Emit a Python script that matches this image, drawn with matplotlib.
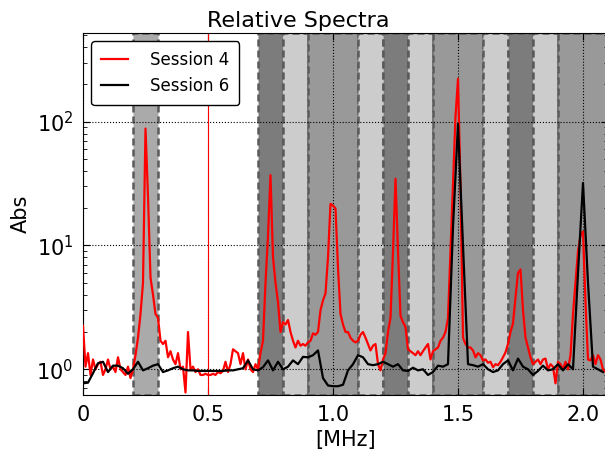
import numpy as np
import matplotlib.pyplot as plt
from matplotlib.ticker import FixedLocator, FixedFormatter

# Session 4, sampled every 0.01 MHz from 0
session4 = [
    2.25, 1.05, 1.35, 0.9, 1.2, 1.0, 1.1, 1.15, 0.9, 1.0,
    1.2, 1.0, 1.05, 0.95, 1.25, 1.0, 0.95, 0.9, 1.05, 0.85,
    1.0, 1.3, 1.8, 2.8, 5.0, 88, 25, 5.5, 4.0, 2.8,
    2.6, 1.7, 1.6, 1.7, 1.25, 1.4, 1.2, 1.1, 1.35, 1.0,
    1.05, 0.65, 2.0, 1.0, 1.05, 0.95, 1.0, 0.9, 0.9, 0.92,
    0.9, 0.9, 0.92, 0.9, 0.95, 0.93, 0.97, 1.15, 0.95, 1.1,
    1.45, 1.4, 1.35, 1.1, 1.35, 1.0, 1.2, 1.0, 0.95, 1.1,
    1.0, 1.35, 1.7, 5.0, 12, 37, 8, 5.0, 3.5, 2.0,
    2.4, 2.3, 2.5, 2.0, 1.7, 1.5, 1.7, 1.55, 1.6, 1.55,
    1.65, 1.7, 1.95, 1.9, 2.0, 3.0, 3.6, 4.1, 8, 21.7,
    21, 19.9, 6.6, 2.8, 2.3, 2.0, 2.0, 1.8, 1.7, 1.65,
    1.7, 1.9, 2.0, 1.8, 1.6, 1.42, 1.55, 1.6, 1.1, 0.98,
    1.2, 1.35, 2.0, 2.6, 9, 34.6, 9, 2.7, 2.4, 2.2,
    1.45, 1.4, 1.35, 1.3, 1.4, 1.3, 1.4, 1.5, 1.6, 1.2,
    1.4, 1.45, 1.5, 1.7, 1.8, 2.0, 2.6, 9, 30, 110,
    222, 30, 1.8, 1.6, 1.5, 1.5, 1.42, 1.25, 1.35, 1.3,
    1.18, 1.2, 1.13, 1.15, 1.04, 1.1, 1.08, 1.15, 1.25, 1.37,
    1.6, 2.0, 2.35, 3.8, 6.0, 6.4, 3.0, 1.8, 1.5, 1.25,
    1.1, 1.15, 1.2, 1.1, 1.2, 1.22, 1.0, 1.1, 1.05, 0.77,
    1.15, 1.1, 1.0, 1.15, 1.0, 1.3, 2.8, 5.0, 9.0, 12,
    13, 3.5, 1.2, 1.18, 1.3, 1.1, 1.3, 1.2, 1.0, 0.95,
]

# Session 6, sampled every 0.02 MHz from 0
session6 = [
    0.77, 0.78, 0.93, 1.12, 1.15, 0.95, 1.07, 1.07, 1.02, 0.92,
    1.0, 1.15, 0.98, 1.02, 1.07, 1.1, 0.95, 0.98, 1.02, 1.05,
    1.0, 0.98, 0.98, 0.97, 0.97, 0.97, 0.97, 0.97, 0.97, 0.98,
    0.98, 1.0, 1.02, 1.18, 1.0, 0.98, 1.04, 1.18, 0.98, 1.15,
    1.0, 1.05, 1.18, 1.1, 1.26, 1.25, 1.3, 1.42, 0.85, 0.74,
    0.73, 0.73, 0.75, 0.98, 1.1, 1.3, 1.25, 1.1, 1.08, 1.1,
    1.15, 1.1, 1.05, 1.1, 0.98, 0.97, 1.03, 0.98, 1.0, 0.9,
    0.95, 1.07, 1.05, 1.1, 14, 96, 10, 1.1, 1.08, 1.05,
    1.1, 1.0, 0.95, 0.98, 1.1, 1.18, 0.98, 1.22, 1.05, 1.0,
    0.9, 0.97, 1.07, 0.98, 1.0, 1.1, 0.98, 1.1, 1.0, 6,
    32, 5, 1.05, 1.0, 0.95,
]

freq4 = np.arange(len(session4)) * 0.01
freq6 = np.arange(len(session6)) * 0.02

# shaded frequency bands [MHz]
band_lo = [0.2, 0.7, 0.8, 0.9, 1.1, 1.2, 1.3, 1.4, 1.6, 1.7, 1.8, 1.9]
band_hi = [0.3, 0.8, 0.9, 1.1, 1.2, 1.3, 1.4, 1.6, 1.7, 1.8, 1.9, 2.1]
band_col = ['#aaaaaa', '#7c7c7c', '#cccccc', '#999999', '#cccccc', '#7c7c7c',
            '#cccccc', '#999999', '#cccccc', '#7c7c7c', '#cccccc', '#999999']

xticks = [0, 0.5, 1.0, 1.5, 2.0]
xticklabels = ['0', '0.5', '1.0', '1.5', '2.0']

fig = plt.figure(figsize=(6.05, 4.53), dpi=100)
ax = fig.add_axes([83 / 605, 58 / 453, 525 / 605, 362 / 453])

for lo, hi, c in zip(band_lo, band_hi, band_col):
    ax.axvspan(lo, hi, facecolor=c, edgecolor='#5a5a5a',
               linestyle=(0, (2.8, 1.6)), linewidth=1.8, zorder=1)

ax.axvline(0.5, color='red', linewidth=0.8, zorder=1.6)

ax.plot(freq4, session4, color='red', lw=1.6, label='Session 4', zorder=3)
ax.plot(freq6, session6, color='black', lw=1.6, label='Session 6', zorder=4)

ax.set_yscale('log')
ax.set_xlim(0, 2.1)
ax.set_ylim(0.62, 520)

ax.xaxis.set_major_locator(FixedLocator(xticks))
ax.xaxis.set_major_formatter(FixedFormatter(xticklabels))

ax.grid(True, which='major', color='black', linestyle=':', linewidth=0.8)
ax.tick_params(which='both', direction='in', top=True, right=True, labelsize=15)
ax.tick_params(which='major', length=5, pad=7)
ax.tick_params(which='minor', length=3)

ax.set_xlabel('[MHz]', fontsize=15)
ax.set_ylabel('Abs', fontsize=15)
ax.set_title('Relative Spectra', fontsize=16, x=0.41, pad=4)

leg = ax.legend(loc='upper left', fontsize=12, fancybox=True, framealpha=1,
                edgecolor='black', handlelength=1.6, handletextpad=1.3,
                borderpad=0.6, labelspacing=0.45)
leg.get_frame().set_linewidth(1.0)

fig.savefig('out.png', dpi=100)
